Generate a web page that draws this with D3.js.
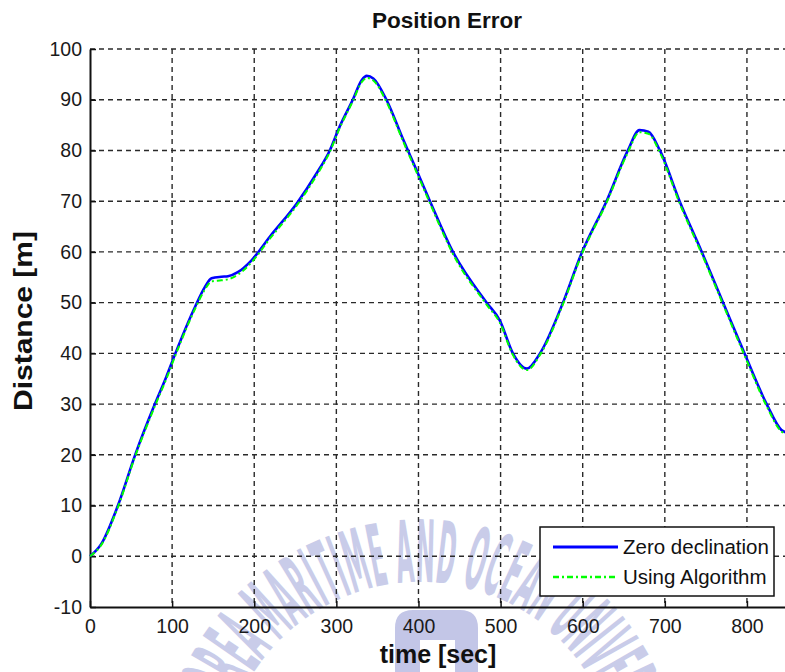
<!DOCTYPE html>
<html>
  <head>
    <meta charset="utf-8" />
    <title>Position Error</title>
    <script src="https://d3js.org/d3.v7.min.js"></script>
    <style>
      body { margin: 0; background: #fff; }
      text { font-family: "Liberation Sans", Arial, sans-serif; }
    </style>
  </head>

  <body>
    <svg id="plot" width="785" height="672"></svg>

    <script>
      // values
      var timeSec = [0, 14, 34, 55, 79, 93, 104, 128, 140, 148, 160, 168, 180, 197,
        219, 252, 276, 292, 304, 320, 331, 337, 345, 361, 381, 398, 414, 442, 483,
        499, 515, 532, 548, 576, 598, 629, 655, 669, 680, 694, 718, 745, 771, 797,
        824, 842, 850];
      var zeroDecl = [0, 2.5, 10, 20, 30, 35.4, 40, 49.2, 53.1, 54.8, 55.1, 55.2, 56, 58.4,
        63, 69.6, 75.5, 80, 84.7, 90, 93.9, 94.7, 94.2, 90, 82.3, 76, 70, 60, 50,
        46.5, 40, 37, 40, 50, 59.5, 70, 80, 84, 83.7, 80, 70, 60, 50, 40,
        30, 24.9, 24.3];
      var usingAlgo = [0, 2.3, 9.7, 19.7, 29.6, 35, 39.6, 48.8, 52.6, 54.2, 54.4, 54.6, 55.5, 58,
        62.6, 69.2, 75.1, 79.7, 84.4, 89.7, 93.5, 94.3, 93.8, 89.6, 81.9, 75.6, 69.6, 59.6, 49.6,
        46.1, 39.7, 36.7, 39.7, 49.7, 59.2, 69.7, 79.6, 83.6, 83.3, 79.6, 69.6, 59.6, 49.6, 39.6,
        29.6, 24.6, 24];
      var xTicks = [0, 100, 200, 300, 400, 500, 600, 700, 800];
      var yTicks = [-10, 0, 10, 20, 30, 40, 50, 60, 70, 80, 90, 100];
      var seriesNames = ["Zero declination", "Using Algorithm"];
      var watermark = "KOREA MARITIME AND OCEAN UNIVERSITY";

      var svg = d3.select("#plot");
      var x = d3.scaleLinear().domain([0, 850]).range([90, 788]);
      var y = d3.scaleLinear().domain([-10, 100]).range([607, 49]);

      // faint university watermark behind everything
      var wm = svg.append("g").attr("class", "watermark");
      var cx = 420, cy = 780, r = 198;
      wm.append("path")
        .attr("id", "wmArc")
        .attr("fill", "none")
        .attr("d", "M" + cx + "," + (cy + r) +
          " A" + r + "," + r + " 0 1 1 " + cx + "," + (cy - r) +
          " A" + r + "," + r + " 0 1 1 " + cx + "," + (cy + r));
      wm.append("text")
        .attr("fill", "#c9cce9")
        .style("font-family", "'Liberation Sans Narrow', 'DejaVu Sans Condensed', sans-serif")
        .style("font-weight", "bold")
        .style("font-size", "86px")
        .append("textPath")
        .attr("href", "#wmArc")
        .attr("startOffset", "51.5%")
        .attr("text-anchor", "middle")
        .attr("textLength", 540)
        .attr("lengthAdjust", "spacingAndGlyphs")
        .text(watermark);
      wm.append("path")
        .attr("fill", "#c3c6e7")
        .attr("d", "M395,690 L395,628 Q395,610 413,610 L460,610 Q478,610 478,628 L478,690 L455,690 L455,640 L420,640 L420,690 Z");

      // grid
      var grid = svg.append("g").attr("class", "grid")
        .attr("stroke", "#2a2a2a").attr("stroke-width", 1.4).attr("stroke-dasharray", "5,4");
      grid.selectAll("line.v")
        .data(xTicks.filter((d) => d > 0))
        .join("line")
        .attr("class", "v")
        .attr("x1", (d) => x(d)).attr("x2", (d) => x(d))
        .attr("y1", y(100)).attr("y2", y(-10));
      grid.selectAll("line.h")
        .data(yTicks.filter((d) => d > -10))
        .join("line")
        .attr("class", "h")
        .attr("x1", x(0)).attr("x2", x(850))
        .attr("y1", (d) => y(d)).attr("y2", (d) => y(d));

      // axes, ticks pointing inward
      var fmt = (d) => String(d);
      var xAxis = svg.append("g")
        .attr("transform", "translate(0," + y(-10) + ")")
        .call(d3.axisBottom(x).tickValues(xTicks).tickFormat(fmt)
          .tickSizeInner(-6).tickSizeOuter(0).tickPadding(12));
      var yAxis = svg.append("g")
        .attr("transform", "translate(" + x(0) + ",0)")
        .call(d3.axisLeft(y).tickValues(yTicks).tickFormat(fmt)
          .tickSizeInner(-6).tickSizeOuter(0).tickPadding(8));
      [xAxis, yAxis].forEach(function (a) {
        a.select(".domain").attr("stroke", "#111").attr("stroke-width", 2);
        a.selectAll(".tick line").attr("stroke", "#111").attr("stroke-width", 1.5);
        a.selectAll(".tick text")
          .attr("fill", "#1a1a1a")
          .style("font-size", "19.5px")
          .style("font-family", "'Liberation Sans', Arial, sans-serif");
      });

      // lines
      var rows = timeSec.map((t, i) => ({ t: t, a: zeroDecl[i], b: usingAlgo[i] }));
      var lineA = d3.line().x((d) => x(d.t)).y((d) => y(d.a)).curve(d3.curveMonotoneX);
      var lineB = d3.line().x((d) => x(d.t)).y((d) => y(d.b)).curve(d3.curveMonotoneX);
      svg.append("path").datum(rows)
        .attr("d", lineA)
        .attr("fill", "none")
        .attr("stroke", "#0000ff")
        .attr("stroke-width", 2.6);
      svg.append("path").datum(rows)
        .attr("d", lineB)
        .attr("fill", "none")
        .attr("stroke", "#00ff00")
        .attr("stroke-width", 2)
        .attr("stroke-dasharray", "6,3,2,3");

      // titles
      svg.append("text")
        .attr("x", 447).attr("y", 28)
        .attr("text-anchor", "middle")
        .style("font-weight", "bold").style("font-size", "22.5px")
        .attr("fill", "#111")
        .text("Position Error");
      svg.append("text")
        .attr("x", 438).attr("y", 663)
        .attr("text-anchor", "middle")
        .style("font-weight", "bold").style("font-size", "25px")
        .attr("fill", "#111")
        .text("time [sec]");
      svg.append("text")
        .attr("transform", "translate(32,321) rotate(-90) scale(1.2,1)")
        .attr("text-anchor", "middle")
        .style("font-weight", "bold").style("font-size", "25px")
        .attr("fill", "#111")
        .text("Distance [m]");

      // legend
      var legend = svg.append("g").attr("class", "legend");
      legend.append("rect")
        .attr("x", 540).attr("y", 527)
        .attr("width", 234).attr("height", 69)
        .attr("fill", "#fff")
        .attr("stroke", "#111").attr("stroke-width", 1.5);
      var styles = [
        { color: "#0000ff", dash: null, w: 3 },
        { color: "#00ff00", dash: "6,3,2,3", w: 2.5 }
      ];
      seriesNames.forEach(function (name, i) {
        var ly = 547 + i * 30;
        legend.append("line")
          .attr("x1", 553).attr("x2", 618)
          .attr("y1", ly).attr("y2", ly)
          .attr("stroke", styles[i].color)
          .attr("stroke-width", styles[i].w)
          .attr("stroke-dasharray", styles[i].dash);
        legend.append("text")
          .attr("x", 623).attr("y", ly + 7)
          .style("font-size", "20.5px")
          .attr("fill", "#111")
          .text(name);
      });
    </script>
  </body>
</html>
